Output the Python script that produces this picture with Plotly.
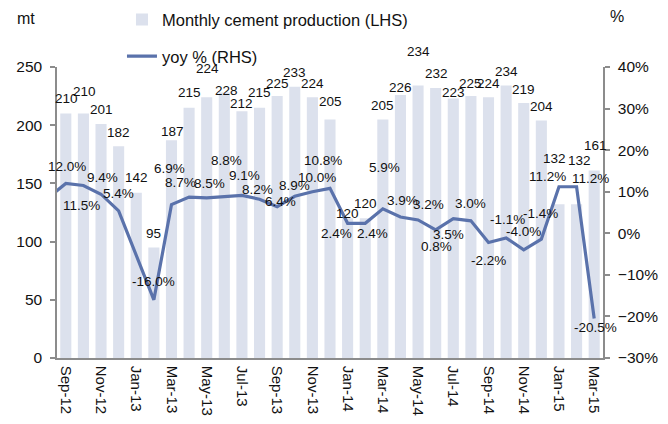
import plotly.graph_objects as go

# months on the category axis (Aug-12 only carries the yoy point that runs off the left edge)
months = ['Aug-12', 'Sep-12', 'Oct-12', 'Nov-12', 'Dec-12', 'Jan-13', 'Feb-13', 'Mar-13',
          'Apr-13', 'May-13', 'Jun-13', 'Jul-13', 'Aug-13', 'Sep-13', 'Oct-13', 'Nov-13',
          'Dec-13', 'Jan-14', 'Feb-14', 'Mar-14', 'Apr-14', 'May-14', 'Jun-14', 'Jul-14',
          'Aug-14', 'Sep-14', 'Oct-14', 'Nov-14', 'Dec-14', 'Jan-15', 'Feb-15', 'Mar-15']
bar_months = months[1:]

# monthly cement production, mt (LHS)
production = [210, 210, 201, 182, 142, 95, 187, 215, 224, 228, 212, 215, 225, 233, 224, 205,
              120, 120, 205, 226, 234, 232, 223, 225, 224, 234, 219, 204, 132, 132, 161]

# yoy %, RHS (Jan-13 not reported)
yoy = [8.5, 12.0, 11.5, 9.4, 5.4, None, -16.0, 6.9, 8.7, 8.5, 8.8, 9.1, 8.2, 6.4, 8.9, 10.0,
       10.8, 2.4, 2.4, 5.9, 3.9, 3.2, 0.8, 3.5, 3.0, -2.2, -1.1, -4.0, -1.4, 11.2, 11.2, -20.5]

tick_months = months[1::2]

# label nudges in pixels (as placed by hand in the original)
bar_lbl_dy = [15, 22, 15, 14, 15, 14, 9, 15, 29, 2, 8, 15, 13, 14, 14, 18,
              5, 15, 14, 7, 34, 14, 6, 13, 14, 14, 14, 14, 46, 44, 25]
bar_lbl_dx = [1, 1, 0, 0, 0, 0, 1, 0, 1, 2, 0, 0, 0, 0, 0, 0,
              0, 0, 0, 0, 0, 1, 0, 0, 0, 0, 0, 0, -4, 3, 1]
yoy_lbl_dx = [None, 1, -2, 1, 0, None, 0, -2, -9, 3, 2, 3, -2, 3, 0, 5,
              -7, -11, 7, 2, 2, 10, 1, -5, 0, 0, 1, 0, -1, -11, 14, 1]
yoy_lbl_dy = [None, 17, -20, 17, 17, None, 18, 36, 15, 14, 36, 20, 10, 5, 11, 14,
              28, -10, -10, 41, 17, 15, -17, -16, 17, -18, 18, 18, 26, 10, 8, -9]

BAR = '#dce1ed'
LINE = '#5a72ab'
AXIS = '#8c8c8c'
FONT = 'Liberation Sans, Arial, sans-serif'

fig = go.Figure()
fig.add_trace(go.Bar(x=bar_months, y=production, name='Monthly cement production (LHS)',
                     marker=dict(color=BAR, line=dict(width=0)), legendgroup='a'))
fig.add_trace(go.Scatter(x=months, y=yoy, yaxis='y2', mode='lines', connectgaps=True,
                         name='yoy % (RHS)', line=dict(color=LINE, width=3.2), legendgroup='b'))

annots = []
for m, v, dx, dy in zip(bar_months, production, bar_lbl_dx, bar_lbl_dy):
    annots.append(dict(x=m, y=v, xref='x', yref='y', text=str(v), showarrow=False,
                       xshift=dx, yshift=dy, font=dict(size=13.5, color='#111')))
for m, v, dx, dy in zip(months, yoy, yoy_lbl_dx, yoy_lbl_dy):
    if v is None or dx is None:
        continue
    annots.append(dict(x=m, y=v, xref='x', yref='y2', text=f'{v:.1f}%', showarrow=False,
                       xshift=dx, yshift=dy, font=dict(size=13.5, color='#111')))
annots.append(dict(x=-0.077, y=1.168, xref='paper', yref='paper', text='mt', showarrow=False,
                   xanchor='left', yanchor='middle', font=dict(size=16, color='#111')))
annots.append(dict(x=1.009, y=1.172, xref='paper', yref='paper', text='%', showarrow=False,
                   xanchor='left', yanchor='middle', font=dict(size=16, color='#111')))

# page body keeps an 8px margin, so the figure is 8px smaller each way
fig.update_layout(
    width=660, height=416,
    margin=dict(l=49, r=65, t=59, b=66, autoexpand=False),
    plot_bgcolor='white', paper_bgcolor='white',
    font=dict(family=FONT, size=15, color='#111'),
    bargap=0.37,
    showlegend=True,
    legend=dict(x=0.119, y=1.222, xanchor='left', yanchor='top', orientation='v',
                tracegroupgap=12, font=dict(size=16.5), bgcolor='rgba(0,0,0,0)'),
    xaxis=dict(type='category', categoryorder='array', categoryarray=months,
               range=[0.5, len(months) - 0.5], tickmode='array', tickvals=tick_months,
               tickangle=90, ticks='', showgrid=False, showline=True, linecolor=AXIS,
               linewidth=1.5, tickfont=dict(size=15), ticklabelstandoff=3),
    xaxis2=dict(overlaying='x', anchor='y', range=[0.5, len(months) - 0.5],
                tickmode='array', tickvals=[i + 0.5 for i in range(0, len(months), 2)],
                ticks='outside', ticklen=5, tickcolor=AXIS, tickwidth=1.5,
                showticklabels=False, showgrid=False, showline=False, zeroline=False),
    yaxis=dict(range=[0, 250], dtick=50, ticks='outside', ticklen=5, tickcolor=AXIS,
               tickwidth=1.5, showgrid=False, showline=True, linecolor=AXIS, linewidth=1.5,
               zeroline=False, tickfont=dict(size=15.5), ticklabelstandoff=5),
    yaxis2=dict(overlaying='y', side='right', range=[-30, 40], dtick=10, ticksuffix='%',
                ticks='outside', ticklen=5, tickcolor=AXIS, tickwidth=1.5, showgrid=False,
                showline=True, linecolor=AXIS, linewidth=1.5, zeroline=False,
                tickfont=dict(size=15.5), ticklabelstandoff=5),
    annotations=annots,
)

fig.write_html('out.html')
